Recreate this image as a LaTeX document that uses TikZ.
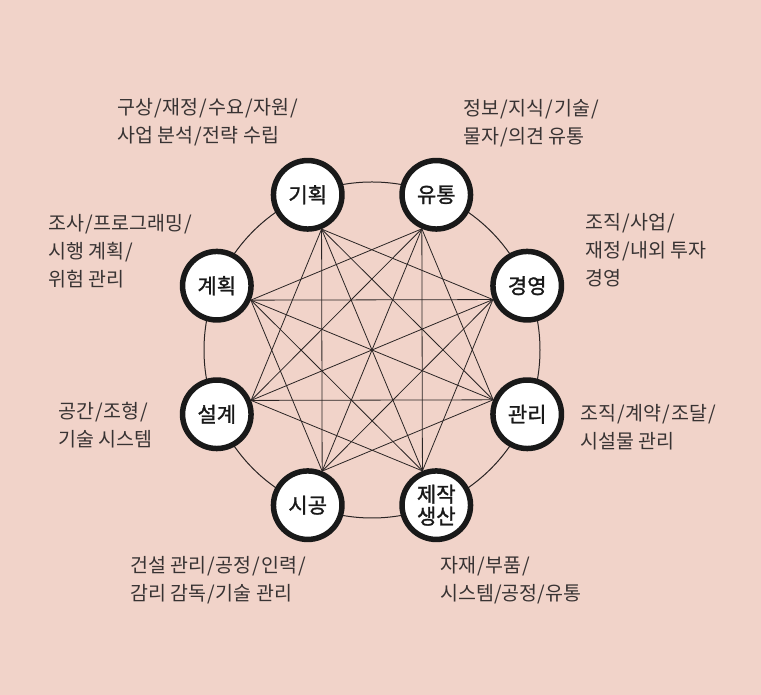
\documentclass[tikz,border=0pt]{standalone}
\usepackage{fontspec}
\usetikzlibrary{calc}
\setmainfont{Noto Sans CJK KR}
\newfontfamily\nodefont[FakeBold=1.3]{Noto Sans CJK KR}
\definecolor{bgpink}{HTML}{F1D3C9}
\definecolor{txtgray}{HTML}{383333}
\definecolor{linegray}{HTML}{2A2424}
\newcommand{\slsep}{\hspace{1pt}/\hspace{1pt}}
\tikzset{
  nd/.style={circle, draw=black!90, line width=5.5pt, fill=white, minimum size=68.5pt, inner sep=0pt,
    font=\nodefont\fontsize{21}{25}\selectfont, text=black!90, align=center},
  lbl/.style={anchor=west, inner sep=0pt, align=left, text=txtgray,
    font=\fontsize{19.5}{28}\selectfont},
  chord/.style={draw=linegray, line width=0.8pt},
  ring/.style={draw=linegray, line width=1pt}
}
\begin{document}
\begin{tikzpicture}[x=1pt,y=1pt]
\fill[bgpink] (0,0) rectangle (761,695);
\useasboundingbox (0,0) rectangle (761,695);
\coordinate (c) at (372,345);
\draw[ring] (c) circle (168);
\node[nd] (n1) at ($(c)+(112.5:168)$) {기획};
\node[nd] (n2) at ($(c)+(67.5:168)$) {유통};
\node[nd] (n3) at ($(c)+(22.5:168)$) {경영};
\node[nd] (n4) at ($(c)+(-22.5:168)$) {관리};
\node[nd] (n5) at ($(c)+(-67.5:168)$) {제작\\[-3pt]생산};
\node[nd] (n6) at ($(c)+(-112.5:168)$) {시공};
\node[nd] (n7) at ($(c)+(-157.5:168)$) {설계};
\node[nd] (n8) at ($(c)+(157.5:168)$) {계획};
\coordinate (p1) at (n1.292.5);
\coordinate (p2) at (n2.247.5);
\coordinate (p3) at (n3.202.5);
\coordinate (p4) at (n4.157.5);
\coordinate (p5) at (n5.112.5);
\coordinate (p6) at (n6.67.5);
\coordinate (p7) at (n7.22.5);
\coordinate (p8) at (n8.337.5);
\foreach \a/\b in {1/3,1/4,1/5,1/6,1/7,2/4,2/5,2/6,2/7,2/8,3/5,3/6,3/7,3/8,4/6,4/7,4/8,5/7,5/8,6/8}
  \draw[chord] (p\a) -- (p\b);
\node[lbl] (t1) at (117,572.5) {구상\slsep 재정\slsep 수요\slsep 자원\slsep\\사업 분석\slsep 전략 수립};
\node[lbl] (t2) at (463,571.5) {정보\slsep 지식\slsep 기술\slsep\\물자\slsep 의견 유통};
\node[lbl] (t3) at (585,444.5) {조직\slsep 사업\slsep\\재정\slsep 내외 투자\\경영};
\node[lbl] (t4) at (48,443.5) {조사\slsep 프로그래밍\slsep\\시행 계획\slsep\\위험 관리};
\node[lbl] (t5) at (58,270) {공간\slsep 조형\slsep\\기술 시스템};
\node[lbl] (t6) at (580,267.5) {조직\slsep 계약\slsep 조달\slsep\\시설물 관리};
\node[lbl] (t7) at (130,115) {건설 관리\slsep 공정\slsep 인력\slsep\\감리 감독\slsep 기술 관리};
\node[lbl] (t8) at (440,115) {자재\slsep 부품\slsep\\시스템/공정/유통};
\end{tikzpicture}
\end{document}
